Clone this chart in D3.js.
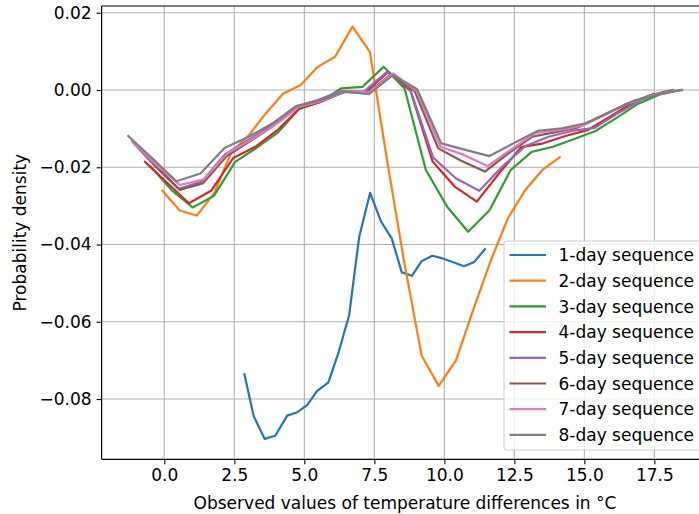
<!DOCTYPE html>
<html>
<head>
<meta charset="utf-8">
<script src="https://cdn.jsdelivr.net/npm/d3@7"></script>
<style>
  html, body { margin: 0; padding: 0; background: #fff; }
  svg { display: block; }
  text { font-family: "DejaVu Sans", sans-serif; }
</style>
</head>
<body>
<svg id="chart" width="699" height="514"></svg>
<script>
const seriesNames = ["1-day sequence","2-day sequence","3-day sequence","4-day sequence","5-day sequence","6-day sequence","7-day sequence","8-day sequence"];
const seriesColors = ["#1f77b4","#ff7f0e","#2ca02c","#d62728","#9467bd","#8c564b","#e377c2","#7f7f7f"];

const x1 = [2.86,3.19,3.58,3.96,4.39,4.75,5.10,5.46,5.86,6.21,6.60,6.96,7.35,7.73,8.12,8.48,8.84,9.19,9.57,9.94,10.32,10.70,11.07,11.45];
const y1 = [-0.0736,-0.0844,-0.0903,-0.0895,-0.0843,-0.0834,-0.0816,-0.0779,-0.0757,-0.0682,-0.0583,-0.0380,-0.0266,-0.0339,-0.0384,-0.0472,-0.0481,-0.0443,-0.0429,-0.0436,-0.0446,-0.0456,-0.0445,-0.0412];

const x2 = [-0.07,0.55,1.16,1.78,2.40,3.02,3.63,4.25,4.87,5.48,6.10,6.72,7.34,7.95,8.57,9.19,9.80,10.42,11.04,11.65,12.27,12.89,13.50,14.12];
const y2 = [-0.0261,-0.0312,-0.0325,-0.0267,-0.0160,-0.0117,-0.0060,-0.0009,0.0013,0.0060,0.0086,0.0164,0.0099,-0.0180,-0.0447,-0.0688,-0.0766,-0.0699,-0.0567,-0.0443,-0.0332,-0.0259,-0.0207,-0.0174];

const x3 = [-0.50,0.26,1.01,1.77,2.53,3.29,4.04,4.80,5.56,6.31,7.07,7.83,8.58,9.34,10.10,10.85,11.61,12.37,13.12,13.88,14.64,15.40,16.15,16.91,17.67,18.42];
const y3 = [-0.0197,-0.0259,-0.0304,-0.0274,-0.0186,-0.0150,-0.0111,-0.0050,-0.0031,0.0004,0.0008,0.0060,0.0004,-0.0207,-0.0302,-0.0367,-0.0311,-0.0207,-0.0160,-0.0147,-0.0127,-0.0106,-0.0072,-0.0036,-0.0012,0.0000];

const x4 = [-0.69,0.10,0.88,1.67,2.46,3.25,4.04,4.83,5.62,6.42,7.21,8.00,8.79,9.58,10.37,11.16,11.95,12.74,13.53,14.32,15.11,15.90,16.69,17.48];
const y4 = [-0.0186,-0.0240,-0.0293,-0.0261,-0.0176,-0.0147,-0.0104,-0.0047,-0.0030,-0.0005,-0.0004,0.0047,-0.0002,-0.0185,-0.0250,-0.0289,-0.0216,-0.0148,-0.0138,-0.0119,-0.0104,-0.0070,-0.0034,-0.0010];

const x5 = [-1.13,-0.31,0.52,1.35,2.17,3.00,3.82,4.65,5.47,6.30,7.12,7.95,8.77,9.60,10.42,11.25,12.07,12.90,13.72,14.55,15.37,16.20,17.02,17.85];
const y5 = [-0.0135,-0.0199,-0.0256,-0.0236,-0.0166,-0.0129,-0.0091,-0.0044,-0.0026,-0.0003,-0.0005,0.0047,0.0004,-0.0175,-0.0229,-0.0261,-0.0198,-0.0145,-0.0121,-0.0106,-0.0098,-0.0060,-0.0026,-0.0005];

const x6 = [-1.13,-0.29,0.55,1.39,2.23,3.07,3.90,4.74,5.58,6.42,7.26,8.10,8.94,9.78,10.62,11.45,12.29,13.13,13.97,14.81,15.65,16.49,17.33,18.16];
const y6 = [-0.0132,-0.0197,-0.0259,-0.0241,-0.0171,-0.0132,-0.0093,-0.0045,-0.0030,-0.0005,-0.0008,0.0041,-0.0003,-0.0151,-0.0184,-0.0211,-0.0164,-0.0121,-0.0109,-0.0096,-0.0067,-0.0036,-0.0014,0.0000];

const x7 = [-1.13,-0.28,0.56,1.41,2.25,3.10,3.94,4.79,5.63,6.48,7.32,8.17,9.01,9.86,10.70,11.54,12.39,13.23,14.08,14.92,15.77,16.61,17.46,18.30];
const y7 = [-0.0134,-0.0194,-0.0246,-0.0231,-0.0164,-0.0129,-0.0091,-0.0044,-0.0028,-0.0003,-0.0006,0.0043,-0.0003,-0.0147,-0.0168,-0.0197,-0.0154,-0.0112,-0.0104,-0.0092,-0.0062,-0.0034,-0.0013,-0.0001];

const x8 = [-1.29,-0.43,0.43,1.29,2.15,3.01,3.87,4.73,5.59,6.45,7.31,8.17,9.03,9.89,10.75,11.61,12.47,13.33,14.19,15.05,15.91,16.77,17.63,18.49];
const y8 = [-0.0119,-0.0177,-0.0236,-0.0216,-0.0150,-0.0121,-0.0086,-0.0041,-0.0026,-0.0004,-0.0011,0.0039,0.0002,-0.0138,-0.0155,-0.0171,-0.0138,-0.0106,-0.0099,-0.0086,-0.0056,-0.0028,-0.0011,0.0000];

const xTicks = [0, 2.5, 5, 7.5, 10, 12.5, 15, 17.5];
const yTicks = [-0.08, -0.06, -0.04, -0.02, 0.00, 0.02];
const xLabel = "Observed values of temperature differences in °C";
const yLabel = "Probability density";

const allX = [x1,x2,x3,x4,x5,x6,x7,x8];
const allY = [y1,y2,y3,y4,y5,y6,y7,y8];
const series = seriesNames.map((name, i) => ({
  name, color: seriesColors[i],
  points: allX[i].map((xv, j) => ({x: xv, y: allY[i][j]}))
}));

const svg = d3.select("#chart");
const pLeft = 101.6, pRight = 709.8, pTop = 6, pBottom = 459.3;
const x = d3.scaleLinear().domain([-2.24, 19.48]).range([pLeft, pRight]);
const y = d3.scaleLinear().domain([-0.0956, 0.02175]).range([pBottom, pTop]);

const fs = 17;
const minus = s => s.replace("-", "\u2212");

// grid
const grid = svg.append("g");
grid.selectAll("line.gx").data(xTicks).join("line")
  .attr("x1", d => x(d)).attr("x2", d => x(d))
  .attr("y1", pTop).attr("y2", pBottom)
  .attr("stroke", "#b0b0b0").attr("stroke-width", 1.1);
grid.selectAll("line.gy").data(yTicks).join("line")
  .attr("x1", pLeft).attr("x2", pRight)
  .attr("y1", d => y(d)).attr("y2", d => y(d))
  .attr("stroke", "#b0b0b0").attr("stroke-width", 1.1);

// lines
const line = d3.line().x(d => x(d.x)).y(d => y(d.y));
svg.append("g").selectAll("path").data(series).join("path")
  .attr("d", d => line(d.points))
  .attr("fill", "none")
  .attr("stroke", d => d.color)
  .attr("stroke-width", 2.2)
  .attr("stroke-linejoin", "round")
  .attr("stroke-linecap", "square");

// axes
const xAxis = d3.axisBottom(x).tickValues(xTicks).tickFormat(d3.format(".1f")).tickSize(5).tickPadding(5);
const gx = svg.append("g").attr("transform", `translate(0,${pBottom})`).call(xAxis);
const yAxis = d3.axisLeft(y).tickValues(yTicks).tickFormat(d => minus(d3.format(".2f")(d))).tickSize(5).tickPadding(5);
const gy = svg.append("g").attr("transform", `translate(${pLeft},0)`).call(yAxis);
[gx, gy].forEach(g => {
  g.select(".domain").remove();
  g.selectAll(".tick line").attr("stroke", "#000").attr("stroke-width", 1.1);
  g.selectAll(".tick text").attr("font-size", fs).attr("fill", "#000").attr("font-family", "DejaVu Sans");
});

// spines
svg.append("line").attr("x1", pLeft).attr("x2", pLeft).attr("y1", pTop).attr("y2", pBottom).attr("stroke", "#000").attr("stroke-width", 1.2);
svg.append("line").attr("x1", pLeft).attr("x2", pRight).attr("y1", pBottom).attr("y2", pBottom).attr("stroke", "#000").attr("stroke-width", 1.2);
svg.append("line").attr("x1", pLeft).attr("x2", pRight).attr("y1", pTop).attr("y2", pTop).attr("stroke", "#000").attr("stroke-width", 1.2);
svg.append("line").attr("x1", pRight).attr("x2", pRight).attr("y1", pTop).attr("y2", pBottom).attr("stroke", "#000").attr("stroke-width", 1.2);

// axis labels
svg.append("text").attr("x", 405).attr("y", 509).attr("text-anchor", "middle")
  .attr("font-size", fs).attr("fill", "#000").text(xLabel);
svg.append("text").attr("transform", `translate(26,${(pTop + pBottom) / 2}) rotate(-90)`)
  .attr("text-anchor", "middle").attr("font-size", fs).attr("fill", "#000").text(yLabel);

// legend
const lg = svg.append("g").attr("transform", "translate(504,241)");
lg.append("rect").attr("x", 0).attr("y", 0).attr("width", 215).attr("height", 209).attr("rx", 3)
  .attr("fill", "#fff").attr("fill-opacity", 0.8).attr("stroke", "#d0d0d0").attr("stroke-width", 1.1);
const rows = lg.selectAll("g.row").data(series).join("g")
  .attr("transform", (d, i) => `translate(0,${14 + i * 25.7})`);
rows.append("line").attr("x1", 5.5).attr("x2", 42).attr("y1", 0).attr("y2", 0)
  .attr("stroke", d => d.color).attr("stroke-width", 2.2);
rows.append("text").attr("x", 54.5).attr("y", 0).attr("dy", "0.36em")
  .attr("font-size", fs).attr("fill", "#000").text(d => d.name);
</script>
</body>
</html>
